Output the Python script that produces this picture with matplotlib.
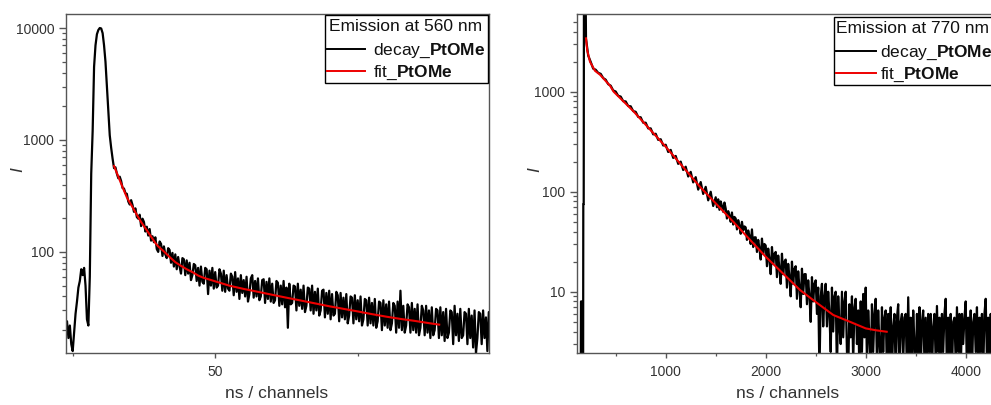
import numpy as np
import matplotlib
matplotlib.use('Agg')
import matplotlib.pyplot as plt
from matplotlib.patches import Rectangle
from matplotlib.lines import Line2D
from matplotlib.ticker import FixedLocator, NullFormatter, LogLocator

plt.rcParams['font.family'] = ['Liberation Sans', 'DejaVu Sans']
plt.rcParams['mathtext.fontset'] = 'custom'
plt.rcParams['mathtext.rm'] = 'Liberation Sans'
plt.rcParams['mathtext.bf'] = 'Liberation Sans:bold'
plt.rcParams['mathtext.it'] = 'Liberation Sans:italic'

# ---------------- data: emission at 560 nm ----------------
decay1_x = np.arange(-2.5, 147.0, 0.5)
decay1_y = [
    20, 24, 17, 22, 15, 13, 19, 28, 36, 48,
    55, 70, 62, 72, 50, 25, 22, 60, 500, 1200,
    4500, 7000, 8800, 9600, 10000, 9900, 9000, 7000, 5000, 3000,
    1800, 1100, 850, 680, 560,
    570, 500, 455, 470, 430, 372, 368, 335, 330, 282,
    265, 290, 262, 228, 245, 205, 198, 215, 170, 198,
    185, 152, 168, 140, 160, 126, 138, 122, 135, 106,
    100, 124, 118, 92, 112, 95, 88, 108, 104, 80,
    98, 74, 95, 70, 90, 74, 64, 88, 86, 62,
    84, 64, 80, 56, 62, 78, 76, 55, 72, 50,
    74, 54, 52, 72, 70, 42, 68, 50, 72, 47,
    66, 48, 50, 70, 64, 45, 68, 44, 62, 47,
    45, 64, 60, 41, 66, 44, 58, 38, 62, 43,
    56, 40, 60, 36, 42, 58, 62, 39, 55, 40,
    58, 37, 40, 56, 57, 35, 54, 38, 58, 36,
    52, 35, 37, 55, 53, 33, 50, 34, 55, 32,
    48, 21, 52, 34, 35, 50, 49, 30, 52, 33,
    46, 31, 50, 29, 33, 48, 47, 30, 50, 28,
    44, 30, 47, 27, 30, 45, 46, 26, 43, 28,
    45, 25, 42, 27, 28, 44, 41, 24, 43, 26,
    39, 25, 42, 23, 27, 40, 39, 23, 41, 25,
    37, 24, 40, 22, 25, 38, 37, 22, 39, 23,
    35, 22, 38, 21, 24, 36, 35, 20, 37, 22,
    34, 21, 36, 20, 23, 35, 33, 19, 36, 21,
    45, 20, 33, 19, 22, 34, 32, 19, 35, 20,
    31, 19, 34, 18, 21, 33, 30, 18, 33, 19,
    30, 17, 32, 18, 20, 31, 30, 17, 32, 18,
    29, 16, 31, 17, 19, 30, 29, 15, 33, 18,
    28, 16, 31, 17, 18, 29, 28, 15, 31, 17,
    27, 14, 30, 12.5, 17, 29, 28, 15, 30, 17,
    26, 13, 29, 18,
]
fit1_x = [14.5, 15, 16, 17, 18, 19, 20, 21, 22, 23, 24, 25, 26, 27, 28, 29, 30,
          32, 34, 36, 38, 40, 42, 44, 46, 48, 50,
          55, 60, 65, 70, 75, 80, 85, 90, 95, 100, 105, 110, 115, 120, 125, 128.6]
fit1_y = [585, 544, 471, 407, 353, 307, 277, 251, 226, 204, 185, 170, 156, 143, 131, 120, 112,
          101, 90, 81, 75, 70, 66, 61.5, 58.6, 56.6, 54.6,
          49.9, 46.7, 44, 41.4, 39, 36.8, 34.7, 32.7, 31, 29.4, 27.8, 26.4, 25.2, 24.2, 23.1, 22.4]

# ---------------- data: emission at 770 nm ----------------
decay2_head_x = [120, 150, 153, 163, 166, 174, 176, 180, 183, 195, 203]
decay2_head_y = [1, 1, 8, 8, 1, 1, 75, 75, 30000, 30000, 3400]
decay2_mid_x = np.arange(225, 1500, 25)
decay2_mid_y = [
    2300, 1990, 1700, 1660, 1545, 1510, 1370, 1320,
    1190, 1150, 1030, 1005, 910, 895, 805, 800,
    720, 715, 640, 630, 560, 555, 490, 490,
    430, 430, 375, 380, 330, 335, 290, 295,
    250, 262, 218, 228, 190, 200, 165, 178,
    142, 158, 124, 140, 105, 125, 95, 112,
    82, 100, 72,
]
decay2_tail_x = np.arange(1500, 4401, 12.5)
decay2_tail_y = [
    88, 70, 84, 66, 80, 72, 63, 78,
    68, 54, 64, 58, 50, 62, 47, 56,
    54, 42, 52, 46, 38, 50, 41, 45,
    44, 33, 41, 36, 30, 42, 28, 35,
    35, 25, 33, 27, 21, 34, 24, 30,
    29, 18, 27, 21, 15, 28, 19, 24,
    25, 14, 23, 17, 12, 24, 15, 20,
    21, 11, 19, 14, 9, 20, 12, 17,
    18, 8.5, 16, 11, 7, 17, 9.5, 15,
    15, 7.5, 13, 9, 5, 14, 8, 12,
    13, 6, 11, 1.5, 9, 12, 4.5, 9,
    12, 4.5, 10, 6, 2.5, 11, 4, 9,
    10, 1.5, 9, 4.5, 3, 10, 3.5, 8,
    10, 2.5, 1.5, 7.5, 3.5, 9, 2, 7,
    8.5, 3, 6.5, 1.5, 8, 2.5, 9.5, 3.5,
    11, 2, 6.5, 3.5, 1.5, 7.5, 2.5, 6,
    8.5, 2, 6.5, 3, 1.5, 7, 2.5, 5.5,
    6.5, 1.5, 6, 2.2, 7, 1.5, 4.5, 6,
    1.5, 5.5, 7.5, 1.5, 5, 6, 2, 5.5,
    6, 1.5, 8.8, 2.2, 5.5, 1.5, 6.5, 3,
    1.5, 6, 2.2, 7, 1.5, 5, 6.5, 2,
    5.5, 1.5, 6, 2.5, 6, 1.5, 4.5, 6,
    2, 7.2, 2.5, 5.5, 1.5, 6, 2.5, 6,
    8.5, 1.5, 5.5, 2.2, 6, 1.5, 5, 5.5,
    2, 7, 2.5, 6, 1.5, 6, 3, 5.5,
    8, 1.5, 5.5, 2.2, 6.5, 1.5, 5, 6,
    2.5, 7, 1.5, 5.5, 2.5, 6, 1.5, 6,
    8.5, 2, 5.5, 1.5, 6, 2.5, 5, 6,
    1.5, 7.5, 2.5, 5.5, 1.5, 6, 2.2, 6,
    6,
]
fit2_x = [203, 215, 243, 293, 343, 443, 480, 676, 1000, 1343, 1676, 2000,
          2343, 2500, 2676, 2850, 3000, 3100, 3210]
fit2_y = [3420, 2600, 1995, 1620, 1480, 1150, 1000, 640, 282, 112, 50, 22.4,
          10.4, 7.9, 5.85, 4.97, 4.3, 4.12, 3.98]

titles = ['Emission at 560 nm', 'Emission at 770 nm']
decay_label = 'decay_$\\mathbf{PtOMe}$'
fit_label = 'fit_$\\mathbf{PtOMe}$'
xlabel = 'ns / channels'
ylabel = 'I'

# ---------------- figure ----------------
W, H = 991, 405
fig = plt.figure(figsize=(W / 100, H / 100), dpi=100)

def px_axes(l, t, r, b):
    return fig.add_axes([l / W, 1 - b / H, (r - l) / W, (b - t) / H])

ax1 = px_axes(66, 14, 489, 353)
ax2 = px_axes(577, 14, 1000, 353)

SP = '#555555'
LBL = '#333333'
RED = '#ee0000'

def style(ax):
    for s in ax.spines.values():
        s.set_color(SP)
        s.set_linewidth(1.0)
    ax.set_yscale('log')
    ax.tick_params(axis='both', which='both', direction='out', colors=SP,
                   labelcolor=LBL, labelsize=10)
    ax.tick_params(axis='y', which='major', length=5, width=1.0, pad=3.5)
    ax.tick_params(axis='y', which='minor', length=3.2, width=0.9)
    ax.tick_params(axis='x', which='major', length=3.8, width=1.0, pad=4.5)
    ax.tick_params(axis='x', which='minor', length=2.2, width=0.9)
    ax.yaxis.set_minor_locator(LogLocator(base=10, subs=np.arange(2, 10)))
    ax.yaxis.set_minor_formatter(NullFormatter())

# left panel
ax1.plot(decay1_x, decay1_y, color='black', lw=1.6, zorder=2)
ax1.plot(fit1_x, fit1_y, color=RED, lw=1.5, zorder=3)
style(ax1)
ax1.set_xlim(-2.35, 146.07)
ax1.set_ylim(12.5, 13340)
ax1.xaxis.set_major_locator(FixedLocator([50]))
ax1.xaxis.set_minor_locator(FixedLocator([0, 100]))
ax1.set_xticklabels(['50'])
ax1.yaxis.set_major_locator(FixedLocator([100, 1000, 10000]))
ax1.set_yticklabels(['100', '1000', '10000'])

# right panel
x2 = decay2_head_x + list(decay2_mid_x) + list(decay2_tail_x)
y2 = decay2_head_y + decay2_mid_y + decay2_tail_y
ax2.plot(x2, y2, color='black', lw=1.6, zorder=2)
ax2.plot(fit2_x, fit2_y, color=RED, lw=1.5, zorder=3)
style(ax2)
ax2.set_xlim(113, 4343)
ax2.set_ylim(2.44, 5990)
ax2.xaxis.set_major_locator(FixedLocator([1000, 2000, 3000, 4000]))
ax2.xaxis.set_minor_locator(FixedLocator([500, 1500, 2500, 3500]))
ax2.set_xticklabels(['1000', '2000', '3000', '4000'])
ax2.yaxis.set_major_locator(FixedLocator([10, 100, 1000]))
ax2.set_yticklabels(['10', '100', '1000'])

# axis labels
for ax, yl_x, xl_x in ((ax1, 18, 277), (ax2, 535, 788)):
    l = ax.get_position().x0 * W
    ax.text((yl_x - l) / 423, 0.54, ylabel, rotation=90, style='italic',
            fontsize=12.5, color=LBL, ha='center', va='center',
            transform=ax.transAxes)
    ax.text((xl_x - l) / 423, (353 - 393) / 339, xlabel, fontsize=12.5,
            color=LBL, ha='center', va='center', transform=ax.transAxes)

# legends (drawn as boxes in pixel positions)
def legend(ax, left_px, box, title, title_x, title_base, line_x0, line_x1,
           text_x, rows):
    def fx(p):
        return (p - left_px) / 423
    def fy(p):
        return (353 - p) / 339
    bl, bt, br, bb = box
    ax.add_patch(Rectangle((fx(bl), fy(bb)), fx(br) - fx(bl), fy(bt) - fy(bb),
                           transform=ax.transAxes, facecolor='white',
                           edgecolor='black', lw=1.0, clip_on=False, zorder=5))
    ax.text(fx(title_x), fy(title_base), title, fontsize=12.5, color='#111111',
            ha='left', va='baseline', transform=ax.transAxes, zorder=6)
    for ly, base, col, lab in rows:
        ax.add_line(Line2D([fx(line_x0), fx(line_x1)], [fy(ly), fy(ly)],
                           color=col, lw=1.4, transform=ax.transAxes,
                           clip_on=False, zorder=6))
        ax.text(fx(text_x), fy(base), lab, fontsize=12.5, color='#111111',
                ha='left', va='baseline', transform=ax.transAxes, zorder=6)

legend(ax1, 66, (325, 15, 488, 83), titles[0], 329, 31, 326.7, 365, 373,
       [(49.3, 55, 'black', decay_label), (71, 77, RED, fit_label)])
legend(ax2, 577, (834.3, 16.7, 1000, 85), titles[1], 836.5, 33, 836, 876, 880,
       [(50.7, 57, 'black', decay_label), (73.3, 79, RED, fit_label)])

fig.savefig('out.png', dpi=100)
